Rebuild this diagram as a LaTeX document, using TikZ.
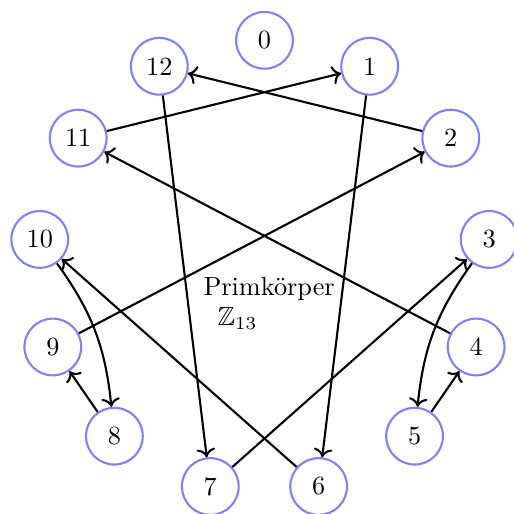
\documentclass[tikz,border=0pt]{standalone}
\usepackage{amsmath,amssymb}
\usepackage{tikz}
\usetikzlibrary{arrows.meta}
\definecolor{RingBlue}{RGB}{128,128,255}
\tikzset{
  res/.style={circle,draw=RingBlue,thick,minimum size=0.76cm,inner sep=1pt},
  arr/.style={->,thick},
}
\begin{document}
\begin{tikzpicture}
  \useasboundingbox (-3.54,-3.31) rectangle (3.34,3.57);
  % residues mod 13 on a ring
  \foreach \i in {0,...,12} { \node[res] (n\i) at ({90-\i*360/13}:3.03cm) {\i}; }
  \node[anchor=base west] (pk) at (-0.94,-0.38) {Primk\"orper};
  \node[anchor=base west] (zz) at (-0.75,-0.79) {$\mathbb{Z}_{13}$};
  % x -> 6x
  \foreach \a/\b in {1/6,2/12,4/11,5/4,6/10,7/3,8/9,9/2,11/1,12/7} { \draw[arr] (n\a) -- (n\b); }
  \draw[arr] (n10) to[bend left=15] (n8);
  \draw[arr] (n3) to[bend right=15] (n5);
\end{tikzpicture}
\end{document}
